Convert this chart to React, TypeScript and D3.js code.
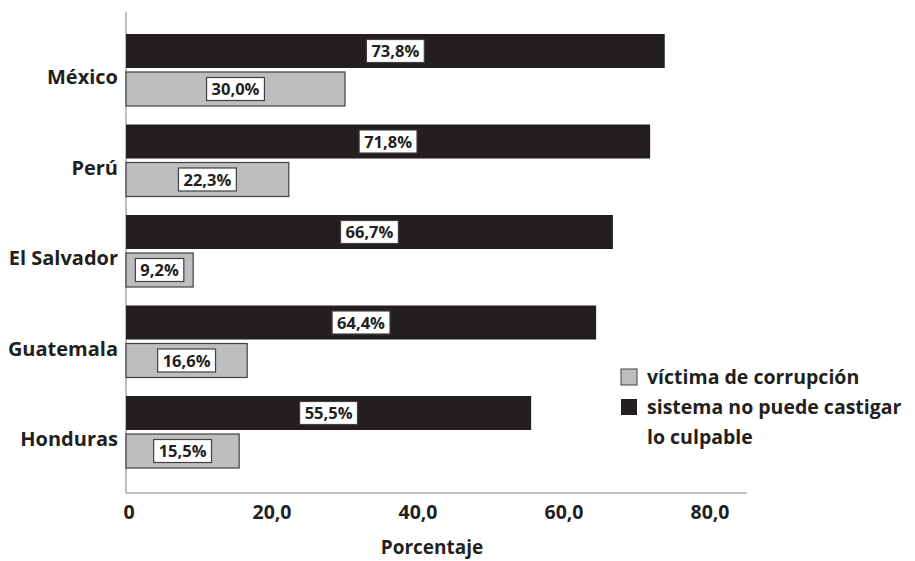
import { useEffect, useRef } from 'react'
import * as d3 from 'd3'

const countries = ['México', 'Perú', 'El Salvador', 'Guatemala', 'Honduras']
const sistema = [73.8, 71.8, 66.7, 64.4, 55.5]
const victima = [30.0, 22.3, 9.2, 16.6, 15.5]
const xTicks = [0, 20, 40, 60, 80]
const legendLabels = [['víctima de corrupción'], ['sistema no puede castigar', 'lo culpable']]

const W = 915
const H = 561
const font = '"Open Sans", "DejaVu Sans", sans-serif'
const black = '#231f20'
const grey = '#bcbec0'

function fmt(v: number) {
	return v.toFixed(1).replace('.', ',')
}

export default function App() {
	const ref = useRef<SVGSVGElement>(null)

	useEffect(() => {
		const svg = d3.select(ref.current)
		svg.selectAll('*').remove()

		const x = d3.scaleLinear().domain([0, 85]).range([126, 746.5])
		const y = d3.scaleBand().domain(countries).range([24.75, 477.25])
		const barH = 34
		const gap = 4

		// axes
		svg.append('line')
			.attr('x1', 126).attr('x2', 126).attr('y1', 12).attr('y2', 493)
			.attr('stroke', '#a7a9ac').attr('stroke-width', 1.5)
		svg.append('line')
			.attr('x1', 126).attr('x2', x(85)).attr('y1', 493).attr('y2', 493)
			.attr('stroke', '#a7a9ac').attr('stroke-width', 1.5)

		svg.append('g').selectAll('text').data(xTicks).enter().append('text')
			.attr('x', d => x(d) + (d === 0 ? 3 : 0))
			.attr('y', 519)
			.attr('text-anchor', 'middle')
			.attr('font-family', font).attr('font-weight', 700).attr('font-size', 19.5)
			.attr('fill', black)
			.text(d => d === 0 ? '0' : fmt(d))

		svg.append('text')
			.attr('x', 432).attr('y', 554)
			.attr('text-anchor', 'middle')
			.attr('font-family', font).attr('font-weight', 700).attr('font-size', 19)
			.attr('fill', black)
			.text('Porcentaje')

		// category labels
		svg.append('g').selectAll('text').data(countries).enter().append('text')
			.attr('x', 118)
			.attr('y', d => (y(d) as number) + y.bandwidth() / 2 + 14)
			.attr('text-anchor', 'end')
			.attr('font-family', font).attr('font-weight', 700).attr('font-size', 20)
			.attr('fill', black)
			.text(d => d)

		const rows = countries.map((c, i) => ({ c, s: sistema[i], v: victima[i] }))

		const g = svg.append('g')
		const top = (c: string) => (y(c) as number) + y.bandwidth() / 2 - barH - gap / 2

		g.selectAll('.bs').data(rows).enter().append('rect')
			.attr('x', x(0))
			.attr('y', d => top(d.c))
			.attr('width', d => x(d.s) - x(0))
			.attr('height', barH)
			.attr('fill', black)

		g.selectAll('.bv').data(rows).enter().append('rect')
			.attr('x', x(0))
			.attr('y', d => top(d.c) + barH + gap)
			.attr('width', d => x(d.v) - x(0))
			.attr('height', barH)
			.attr('fill', grey)
			.attr('stroke', '#414042').attr('stroke-width', 1.2)

		// value labels with white boxes
		const labels: { cx: number; cy: number; t: string }[] = []
		rows.forEach(d => {
			labels.push({ cx: (x(0) + x(d.s)) / 2, cy: top(d.c) + barH / 2, t: fmt(d.s) + '%' })
			labels.push({ cx: (x(0) + x(d.v)) / 2, cy: top(d.c) + barH + gap + barH / 2, t: fmt(d.v) + '%' })
		})
		labels.forEach(l => {
			const lg = svg.append('g')
			const rect = lg.append('rect')
			const txt = lg.append('text')
				.attr('x', l.cx).attr('y', l.cy + 6)
				.attr('text-anchor', 'middle')
				.attr('font-family', font).attr('font-weight', 700).attr('font-size', 16.5)
				.attr('fill', black)
				.text(l.t)
			const w = (txt.node() as SVGTextElement).getComputedTextLength() + 10
			rect.attr('x', l.cx - w / 2).attr('y', l.cy - 11.5)
				.attr('width', w).attr('height', 23)
				.attr('fill', '#fff').attr('stroke', '#414042').attr('stroke-width', 1.2)
		})

		// legend
		const legendFill = [grey, black]
		const legendY = [377, 407]
		legendLabels.forEach((lines, i) => {
			svg.append('rect')
				.attr('x', 621).attr('y', legendY[i] - 8)
				.attr('width', 16).attr('height', 16)
				.attr('fill', legendFill[i])
				.attr('stroke', i === 0 ? '#414042' : 'none').attr('stroke-width', 1)
			lines.forEach((t, j) => {
				svg.append('text')
					.attr('x', 647).attr('y', legendY[i] + 7 + j * 30)
					.attr('font-family', font).attr('font-weight', 700).attr('font-size', 19.5)
					.attr('fill', black)
					.text(t)
			})
		})
	}, [])

	return (
		<svg ref={ref} width={W} height={H} style={{ position: 'absolute', left: 0, top: 0, background: '#fff' }} />
	)
}
